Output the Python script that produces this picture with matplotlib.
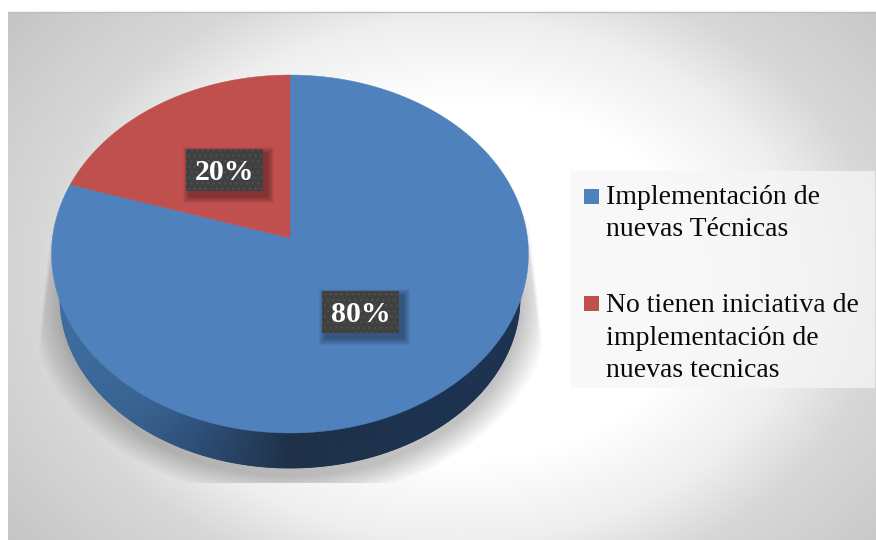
import numpy as np
import matplotlib
matplotlib.use("Agg")
import matplotlib.pyplot as plt
from matplotlib.colors import LinearSegmentedColormap
from matplotlib.patches import Rectangle

categories = ["Implementación de\nnuevas Técnicas",
              "No tienen iniciativa de\nimplementación de\nnuevas tecnicas"]
values = [80, 20]
value_labels = ["80%", "20%"]
colors = ["#4f81bd", "#c0504d"]

W, H = 876, 540
CX, APEX_Y, RX = 290.0, 238.0, 237.5
PERSP, TILT = 0.0894, -156.3
# bottom rim of the pie (narrower, further from the viewer)
RIM_RX, RIM_RY, RIM_CY = 230.0, 170.0, 298.0


# disc -> picture, perspective makes the apex sit above the ellipse centre
def project(u, v):
    d = PERSP * v + 1
    return CX + RX * u / d, (TILT * v + APEX_Y) / d


def sector(start, end):
    a = np.radians(np.linspace(start, end, 200))
    xs, ys = project(np.sin(a), np.cos(a))
    return np.r_[CX, xs], np.r_[APEX_Y, ys]


fig = plt.figure(figsize=(W / 100, H / 100), dpi=100)
ax = fig.add_axes([0, 0, 1, 1])

# -------------------- background --------------------
yy, xx = np.mgrid[0:H, 0:W]
dist = np.hypot((xx - 460) / 400.0, (yy - 280) / 300.0)
bg_cmap = LinearSegmentedColormap.from_list(
    "bg", [(0, "#ffffff"), (0.33, "#eeeeee"), (0.55, "#d8d8d8"), (1, "#c6c6c6")])
ax.imshow(dist, cmap=bg_cmap, vmin=0.6, vmax=1.42, extent=(0, W, H, 0), aspect="auto", zorder=0)
ax.add_patch(Rectangle((0, 0), W, 12, facecolor="white", lw=0, zorder=1))
ax.add_patch(Rectangle((0, 0), 8, H, facecolor="white", lw=0, zorder=1))
ax.plot([8, W], [12, 12], color="#bdbdbd", lw=1, zorder=1)

# -------------------- shadow under the pie --------------------
d = np.hypot((xx - CX) / 262.0, (yy - 300) / 200.0)
shadow = np.zeros((H, W, 4))
# upper part of the shadow is cut off along a slanted edge
edge = np.clip(240 + (yy - 230) * 13.0 / 115.0, 0, 253)
taper = np.clip((edge - np.abs(xx - CX)) / 4.0, 0, 1)
shadow[..., 3] = np.clip((1.0 - d) / 0.12, 0, 1) * 0.24 * taper
shadow[(xx < 38) | (xx > 543) | (yy > 482)] = 0
ax.imshow(shadow, extent=(0, W, H, 0), aspect="auto", zorder=2)

# -------------------- side wall --------------------
wall_cmap = LinearSegmentedColormap.from_list(
    "wall", [(0, "#3e6c9f"), (0.15, "#38628f"), (0.31, "#2b4a72"), (0.5, "#1e3048"), (1, "#1d3352")])
a = np.radians(np.linspace(90, 270, 541))
rim_x = CX + RIM_RX * np.sin(a)
rim_y = RIM_CY - RIM_RY * np.cos(a)
for i in range(len(a) - 1):
    ax.fill([CX, rim_x[i], rim_x[i + 1]], [RIM_CY, rim_y[i], rim_y[i + 1]],
            color=wall_cmap((rim_x[i] - 60) / 460.0), lw=0.6, zorder=3)

# -------------------- top of the pie --------------------
label_pos = [(360.5, 312), (224, 170)]
total = sum(values)
start = 0.0
for val, col, txt, (lx, ly) in zip(values, colors, value_labels, label_pos):
    end = start + 360.0 * val / total
    xs, ys = sector(start, end)
    ax.fill(xs, ys, color=col, lw=0.3, zorder=4)
    start = end
    # label box with soft shadow
    for k in range(14, 0, -2):
        ax.add_patch(Rectangle((lx - 38.5 + 4 - k / 2, ly - 21 + 5 - k / 2), 77 + k, 42 + k,
                               facecolor="#000000", alpha=0.05, lw=0, zorder=5))
    ax.add_patch(Rectangle((lx - 38.5, ly - 21), 77, 42, facecolor="#404040", edgecolor="#4e4e4e",
                           hatch="...", lw=0, zorder=6))
    ax.text(lx, ly + 3, txt, color="white", fontsize=21.5, fontweight="bold", family="Liberation Serif",
            ha="center", va="center", zorder=7)

# -------------------- legend --------------------
ax.add_patch(Rectangle((571, 171), 304, 217, facecolor="#f6f6f6", alpha=0.75, lw=0, zorder=5))
legend_lines = [(203.5, 188.5), (312, 296)]
for lab, col, (base, sq) in zip(categories, colors, legend_lines):
    ax.add_patch(Rectangle((584, sq), 15, 15, facecolor=col, lw=0, zorder=6))
    for n, line in enumerate(lab.split("\n")):
        ax.text(606, base + n * 32.6, line, fontsize=20, family="Liberation Serif", color="#0a0a0a",
                va="baseline", ha="left", zorder=6)

ax.set_xlim(0, W)
ax.set_ylim(H, 0)
ax.axis("off")
fig.savefig("out.png", dpi=100)
